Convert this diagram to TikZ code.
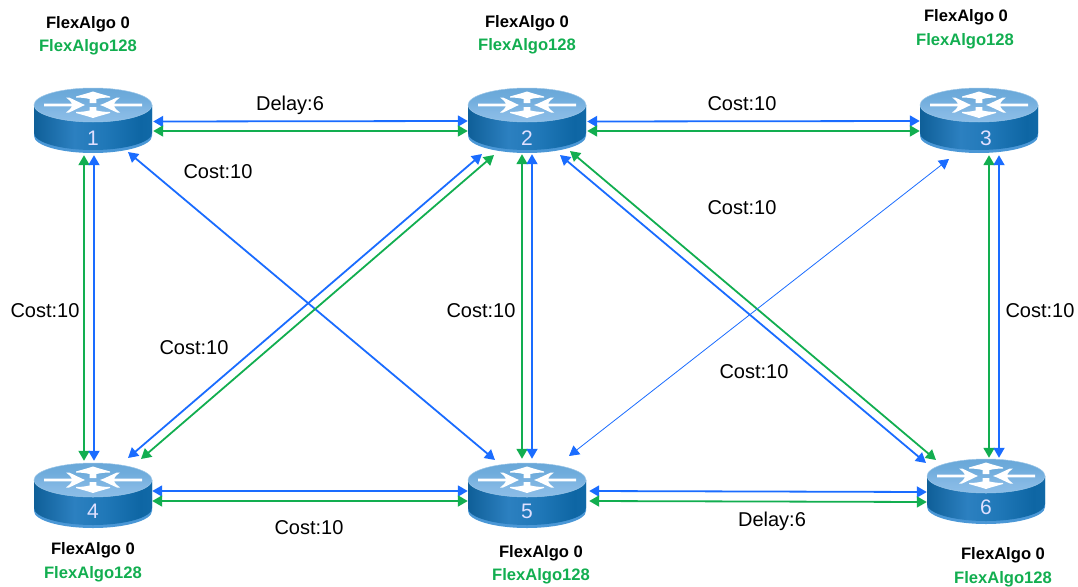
\documentclass[tikz,border=0pt]{standalone}
\usepackage{fontspec}
\setmainfont{Liberation Sans}
\usetikzlibrary{calc,arrows.meta}
\definecolor{linkblue}{HTML}{1A6CFF}
\definecolor{linkgreen}{HTML}{12AE50}
\definecolor{lipblue}{HTML}{4A97D6}
\definecolor{bodya}{HTML}{1B6CA6}
\definecolor{bodyb}{HTML}{0F5F98}
\definecolor{bodyc}{HTML}{2C80C0}
\definecolor{bodyd}{HTML}{2078B8}
\definecolor{bodye}{HTML}{0E66A4}
\definecolor{bodyf}{HTML}{1C78B6}
\definecolor{topa}{HTML}{5FA0D2}
\definecolor{topb}{HTML}{6FACDC}
\definecolor{topc}{HTML}{84B8E4}
\definecolor{topd}{HTML}{9AC6EC}
\pgfdeclarehorizontalshading{routerbody}{100bp}{
  color(0bp)=(bodya);
  color(25bp)=(bodyb);
  color(42bp)=(bodyc);
  color(55bp)=(bodyd);
  color(70bp)=(bodye);
  color(100bp)=(bodyf)}
\pgfdeclareverticalshading{routertop}{100bp}{
  color(0bp)=(topd);
  color(40bp)=(topc);
  color(60bp)=(topb);
  color(100bp)=(topa)}
\tikzset{
  linktips/.style={{Triangle[length=10pt,width=11pt]}-{Triangle[length=10pt,width=11pt]}},
  bluelink/.style={linkblue,line width=1.8pt,linktips},
  greenlink/.style={linkgreen,line width=1.8pt,linktips},
  thinlink/.style={linkblue,line width=0.8pt,linktips},
  routerhit/.style={inner sep=0pt,minimum width=118pt,minimum height=65pt},
  routernum/.style={text=white!88!blue,font=\fontsize{21}{23}\selectfont,inner sep=0pt},
  algoblack/.style={text=black,font=\fontsize{16.6}{19}\selectfont\bfseries,inner sep=0pt},
  algogreen/.style={text=linkgreen,font=\fontsize{16.6}{19}\selectfont\bfseries,inner sep=0pt},
  linklabel/.style={text=black,font=\fontsize{20}{23}\selectfont,inner sep=0pt},
}
\newcommand{\routerart}[2]{%
  \begin{scope}[shift={(#1,#2)}]
    \fill[lipblue] (-59,0) -- (-59,31) .. controls (-59,40.4) and (-32.6,48) .. (0,48)
      .. controls (32.6,48) and (59,40.4) .. (59,31) -- (59,0) -- cycle;
    \shade[shading=routerbody] (-59,0) -- (-59,28) .. controls (-59,37.4) and (-32.6,45) .. (0,45)
      .. controls (32.6,45) and (59,37.4) .. (59,28) -- (59,0) -- cycle;
    \shade[shading=routertop,draw=white!45!lipblue,line width=0.5pt] (0,0) ellipse (59pt and 17pt);
    % horizontal arrows
    \fill[white] (-49,-1.3) -- (-21,-1.3) .. controls (-22,-3) and (-24,-6) .. (-27,-7.5)
      -- (-24,-7.5) .. controls (-18,-5) and (-13,-2) .. (-8,0) .. controls (-13,2) and (-18,5) .. (-24,7.5)
      -- (-27,7.5) .. controls (-24,6) and (-22,3) .. (-21,1.3) -- (-49,1.3) -- cycle;
    \fill[white] (49,-1.3) -- (21,-1.3) .. controls (22,-3) and (24,-6) .. (27,-7.5)
      -- (24,-7.5) .. controls (18,-5) and (13,-2) .. (7,0) .. controls (13,2) and (18,5) .. (24,7.5)
      -- (27,7.5) .. controls (24,6) and (22,3) .. (21,1.3) -- (49,1.3) -- cycle;
    % vertical arrows
    \fill[white] (0,-13.5) .. controls (6,-11.5) and (12,-10) .. (17,-8.5)
      -- (17,-7.5) .. controls (12,-7.5) and (8,-7) .. (3.3,-6) -- (3.3,-2) -- (-3.3,-2) -- (-3.3,-6)
      .. controls (-8,-7) and (-12,-7.5) .. (-17,-7.5) -- (-17,-8.5) .. controls (-12,-10) and (-6,-11.5) .. (0,-13.5) -- cycle;
    \fill[white] (0,13) .. controls (6,11) and (12,9.5) .. (17,8)
      -- (17,7) .. controls (12,7) and (8,6.5) .. (3.3,5.5) -- (3.3,2) -- (-3.3,2) -- (-3.3,5.5)
      .. controls (-8,6.5) and (-12,7) .. (-17,7) -- (-17,8) .. controls (-12,9.5) and (-6,11) .. (0,13) -- cycle;
  \end{scope}}
\begin{document}
\begin{tikzpicture}[x=1pt,y=-1pt]
\useasboundingbox (0,0) rectangle (1078,586);
% routers
\routerart{93}{105}\node[routerhit] (r1) at (93,120.5) {};
\routerart{527}{105}\node[routerhit] (r2) at (527,120.5) {};
\routerart{979}{105}\node[routerhit] (r3) at (979,120.5) {};
\routerart{93}{480}\node[routerhit] (r4) at (93,495.5) {};
\routerart{527}{480}\node[routerhit] (r5) at (527,495.5) {};
\routerart{986}{476}\node[routerhit] (r6) at (986,491.5) {};
\node[routernum] (n1) at (93,138) {1};
\node[routernum] (n2) at (527,138) {2};
\node[routernum] (n3) at (986,138) {3};
\node[routernum] (n4) at (93,511) {4};
\node[routernum] (n5) at (527,511) {5};
\node[routernum] (n6) at (986,507) {6};
% horizontal links
\draw[bluelink]  ($(r1.east)+(1,1)$)  -- ($(r2.west)+(0,0.5)$);
\draw[greenlink] ($(r1.east)+(1,10.5)$) -- ($(r2.west)+(0,10.5)$);
\draw[bluelink]  ($(r2.east)+(1,1)$)  -- ($(r3.west)+(0,0.5)$);
\draw[greenlink] ($(r2.east)+(1,10.5)$) -- ($(r3.west)+(0,10.5)$);
\draw[bluelink]  ($(r4.east)+(0,-4.5)$) -- ($(r5.west)+(0,-4.5)$);
\draw[greenlink] ($(r4.east)+(0,5.5)$) -- ($(r5.west)+(0,5.5)$);
\draw[bluelink]  ($(r5.east)+(3,-4.5)$) -- ($(r6.west)+(0,0.5)$);
\draw[greenlink] ($(r5.east)+(3,5.5)$) -- ($(r6.west)+(0,10.5)$);
% vertical links
\draw[greenlink] ($(r1.south)+(-9,2)$) -- ($(r4.north)+(-9,-2)$);
\draw[bluelink]  ($(r1.south)+(1,2)$)  -- ($(r4.north)+(1,-2)$);
\draw[greenlink] ($(r2.south)+(-5,1)$) -- ($(r5.north)+(-5,-4)$);
\draw[bluelink]  ($(r2.south)+(5,1)$)  -- ($(r5.north)+(5,-4)$);
\draw[greenlink] ($(r3.south)+(10,2)$)  -- ($(r6.north)+(3,-1)$);
\draw[bluelink]  ($(r3.south)+(20,2)$) -- ($(r6.north)+(13,-1)$);
% diagonal links
\draw[bluelink]  ($(r1)+(35,31.5)$) -- ($(r5)+(-32,-35.5)$);
\draw[bluelink]  ($(r2)+(-45,33.5)$) -- ($(r4)+(35,-37.5)$);
\draw[greenlink] ($(r2)+(-33,34.5)$) -- ($(r4)+(48,-36.5)$);
\draw[greenlink] ($(r2)+(43,30.5)$) -- ($(r6)+(-50,-31.5)$);
\draw[bluelink]  ($(r2)+(33,34.5)$) -- ($(r6)+(-60,-28.5)$);
\draw[thinlink]  ($(r3)+(-30,38.5)$) -- ($(r5)+(42,-39.5)$);
% router captions
\node[algoblack] (a1) at (88,24) {FlexAlgo 0};
\node[algogreen] (b1) at (88,47) {FlexAlgo128};
\node[algoblack] (a2) at (527,23) {FlexAlgo 0};
\node[algogreen] (b2) at (527,46) {FlexAlgo128};
\node[algoblack] (a3) at (966,17) {FlexAlgo 0};
\node[algogreen] (b3) at (965,41) {FlexAlgo128};
\node[algoblack] (a4) at (93,550) {FlexAlgo 0};
\node[algogreen] (b4) at (93,574) {FlexAlgo128};
\node[algoblack] (a5) at (541,553) {FlexAlgo 0};
\node[algogreen] (b5) at (541,576) {FlexAlgo128};
\node[algoblack] (a6) at (1003,555) {FlexAlgo 0};
\node[algogreen] (b6) at (1003,579) {FlexAlgo128};
% link labels
\node[linklabel] (l1) at (290,105) {Delay:6};
\node[linklabel] (l2) at (742,104) {Cost:10};
\node[linklabel] (l3) at (218,171.5) {Cost:10};
\node[linklabel] (l4) at (742,207.5) {Cost:10};
\node[linklabel] (l5) at (45,310.5) {Cost:10};
\node[linklabel] (l6) at (481,310.5) {Cost:10};
\node[linklabel] (l7) at (1040,310.5) {Cost:10};
\node[linklabel] (l8) at (194,347.5) {Cost:10};
\node[linklabel] (l9) at (754,371.5) {Cost:10};
\node[linklabel] (l10) at (772,521.5) {Delay:6};
\node[linklabel] (l11) at (309,527.5) {Cost:10};
\end{tikzpicture}
\end{document}
